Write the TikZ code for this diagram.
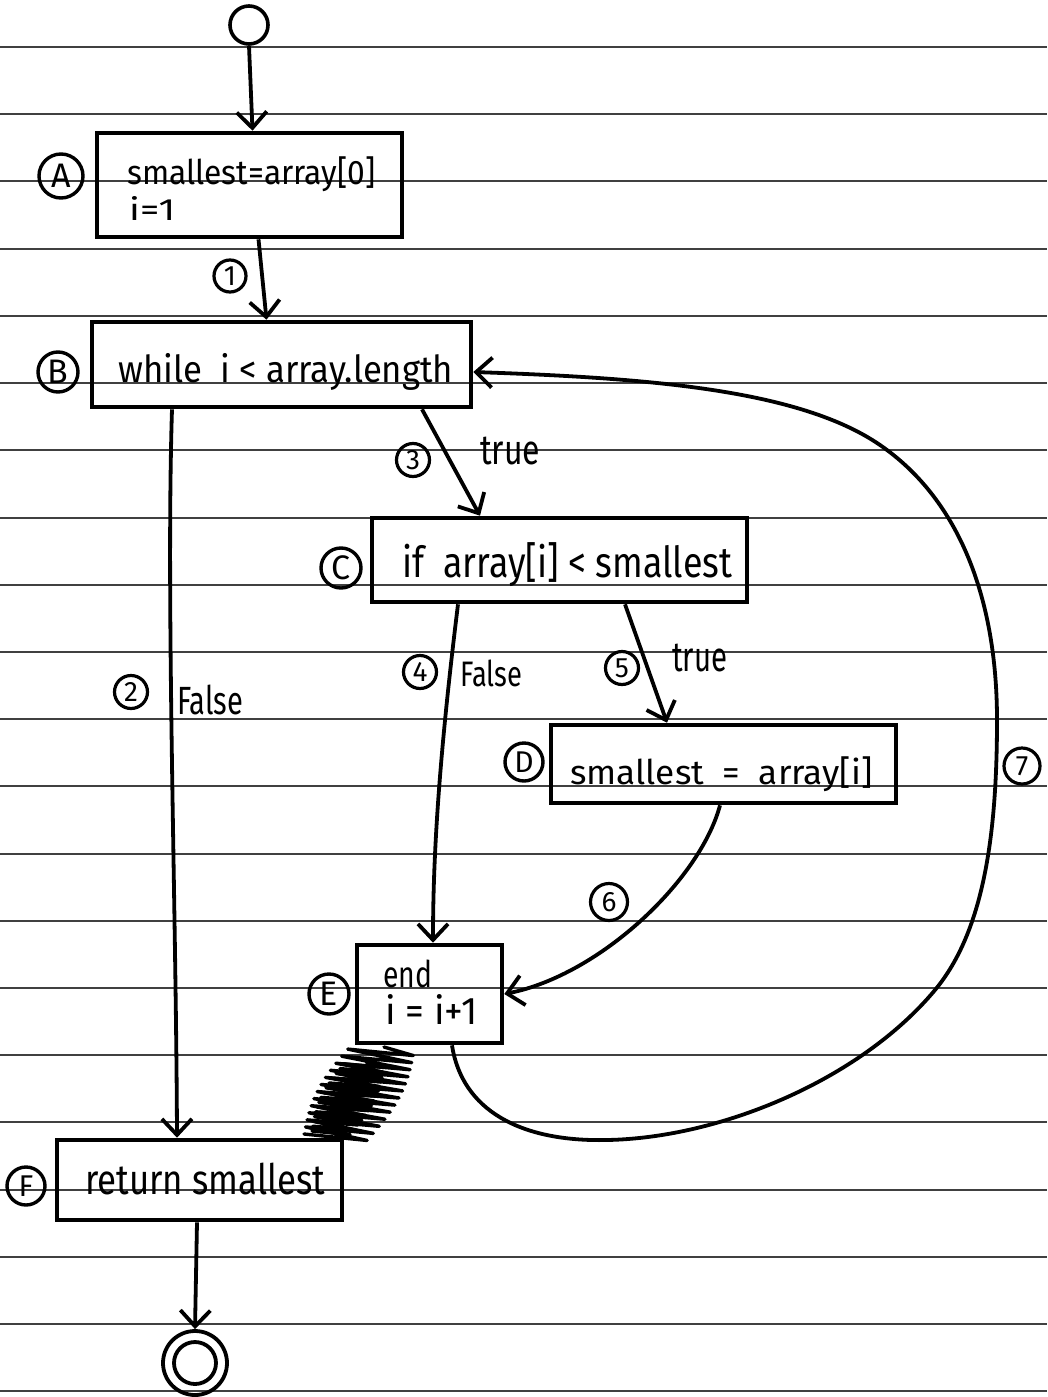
\documentclass[tikz,border=0pt]{standalone}
\usepackage{fontspec}
\setmainfont{Fira Sans}
\usetikzlibrary{arrows.meta}
\tikzset{
  paperline/.style={line width=1.8pt, black!75},
  box/.style={draw, rectangle, line width=4.6pt, inner sep=0pt},
  conn/.style={line width=3.8pt, -{Straight Barb[length=16pt,width=30pt]}},
  tag/.style={draw, circle, line width=3.4pt, inner sep=0pt, minimum size=40pt,
              font=\fontsize{34}{34}\selectfont},
  num/.style={draw, circle, line width=3.2pt, inner sep=0pt, minimum size=33pt,
              font=\fontsize{28}{28}\selectfont},
  txt/.style={inner sep=0pt, anchor=west},
  scrib/.style={line width=3.4pt, line join=round, line cap=round},
}
% text stretched to a given width and total height
\newcommand{\hw}[3]{\resizebox*{#1pt}{#2pt}{#3}}
\begin{document}
\begin{tikzpicture}[x=1pt,y=-1pt]
\useasboundingbox (0,0) rectangle (1047,1397);
\fill[white] (0,0) rectangle (1047,1397);

% ruled paper
\foreach \ly in {47,114,181,249,316,383,450,518,585,652,719,786,854,921,988,1055,1122,1190,1257,1324,1391}
  \draw[paperline] (0,\ly) -- (1047,\ly);

% start and stop
\node[circle, draw, line width=3.6pt, minimum size=38pt, inner sep=0pt] (start) at (249,25) {};
\node[circle, draw, line width=3.8pt, minimum size=64pt, inner sep=0pt] (stop) at (195,1363) {};
\draw[line width=3.8pt] (stop.center) circle (21);

% activity boxes
\node[box, minimum width=305pt, minimum height=104pt] (A) at (249.5,185) {};
\node[box, minimum width=379pt, minimum height=85pt]  (B) at (281.5,364.5) {};
\node[box, minimum width=375pt, minimum height=84pt]  (C) at (559.5,560) {};
\node[box, minimum width=345pt, minimum height=78pt]  (D) at (723.5,764) {};
\node[box, minimum width=145pt, minimum height=98pt]  (E) at (429.5,994) {};
\node[box, minimum width=285pt, minimum height=80pt]  (F) at (199.5,1180) {};

% box texts
\node[txt] (tA1) at (127,174.5) {\hw{248}{35}{smallest=array[0]}};
\node[txt] (tA2) at (129,208.5) {\hw{46}{24}{i=1}};
\node[txt] (tB)  at (118,371.5) {\hw{335}{37}{while\ \ i < array.length}};
\node[txt] (tC)  at (402,565)   {\hw{330}{44}{if\ \ array[i] < smallest}};
\node[txt] (tD)  at (570,774)   {\hw{302}{35}{smallest\ \ =\ \ array[i]}};
\node[txt] (tE1) at (383,974)   {\hw{49}{28}{end}};
\node[txt] (tE2) at (385,1009)  {\hw{92}{30}{i = i+1}};
\node[txt] (tF)  at (85,1179)   {\hw{240}{32}{return smallest}};

% box tags
\node[tag, minimum size=44pt] (lA) at (61,176) {A};
\node[tag] (lB) at (58,372) {B};
\node[tag] (lC) at (341,568) {C};
\node[tag, minimum size=38pt, font=\fontsize{30}{30}\selectfont] (lD) at (524,762) {D};
\node[tag] (lE) at (329,994) {E};
\node[tag, minimum size=38pt, font=\fontsize{30}{30}\selectfont] (lF) at (26,1186) {F};

% edge numbers and guards
\node[num, minimum size=32pt] (n1) at (230,276) {1};
\node[num] (n2) at (131,692) {2};
\node[num] (n3) at (413,460) {3};
\node[num] (n4) at (420,672) {4};
\node[num] (n5) at (622,668) {5};
\node[num, minimum size=37pt] (n6) at (609,902) {6};
\node[num, minimum size=36pt] (n7) at (1022,766) {7};
\node[txt] (g2) at (177,700)   {\hw{66}{30}{False}};
\node[txt] (g3) at (480,451)   {\hw{60}{28}{true}};
\node[txt] (g4) at (460,673.5) {\hw{62}{27}{False}};
\node[txt] (g5) at (672,657.5) {\hw{55}{28}{true}};

% connectors
\draw[conn] (start.south) -- ([xshift=3pt]A.north);
\draw[conn] ([xshift=9pt]A.south) -- ([xshift=-15pt]B.north);
\draw[conn] ([xshift=-109.5pt]B.south) .. controls (166,600) and (176,900) .. ([xshift=-22.5pt]F.north);
\draw[conn] ([xshift=140.5pt]B.south) -- ([xshift=-79.5pt]C.north);
\draw[conn] ([xshift=-101.5pt]C.south) .. controls (440,750) and (433,850) .. ([xshift=3.5pt]E.north);
\draw[conn] ([xshift=65.5pt]C.south) -- ([xshift=-56.5pt]D.north);
\draw[conn] ([xshift=-3.5pt]D.south) .. controls (700,880) and (600,975) .. (E.east);
\draw[conn] ([xshift=-2.5pt]F.south) -- (stop.north);

% loop back from E to B
\coordinate (e7) at ([xshift=22.5pt]E.south);
\coordinate (b7) at ([yshift=-7.5pt]B.east);
\draw[conn] (e7) .. controls (462,1110) and (520,1142) .. (607,1140)
  .. controls (720,1138) and (860,1080) .. (935,990)
  .. controls (985,930) and (997,830) .. (997,720)
  .. controls (997,600) and (960,500) .. (880,445)
  .. controls (800,390) and (650,378) .. (b7);

% crossed-out connector between E and F
\draw[scrib] (384,1047) \foreach \i in {1,...,26} {
  -- ({384-50*\i/26 + (2*mod(\i,2)-1)*(30+10*sin(180*\i/26))},
      {1047+92*\i/26 + (2*mod(\i,2)-1)*5})
};
\draw[scrib] (366,1062) \foreach \i in {1,...,30} {
  -- ({366-36*\i/30 + (2*mod(\i,2)-1)*(18+8*sin(180*\i/30))},
      {1062+72*\i/30 + (2*mod(\i,2)-1)*3})
};
\end{tikzpicture}
\end{document}
